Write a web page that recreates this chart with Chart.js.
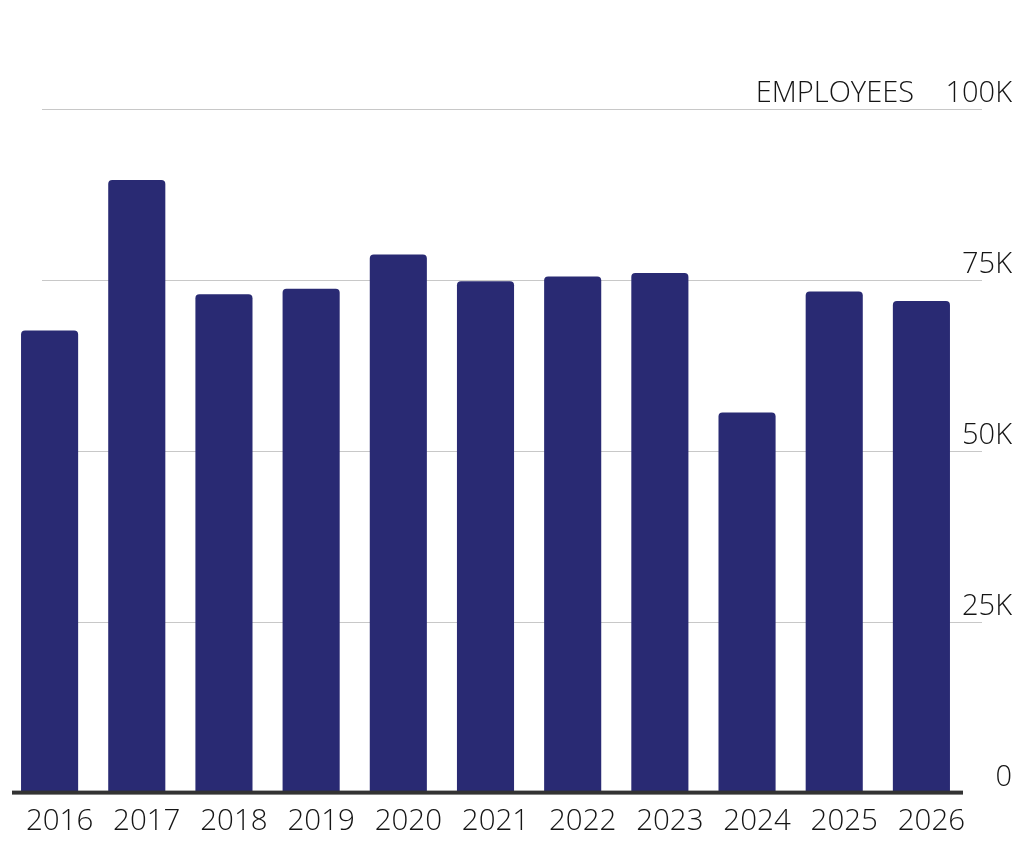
<!DOCTYPE html>
<html>
<head>
<meta charset="utf-8">
<script src="https://cdn.jsdelivr.net/npm/chart.js@4/dist/chart.umd.min.js"></script>
<style>
  html, body { margin: 0; padding: 0; background: #fff; }
  #wrap { width: 1030px; height: 856px; }
</style>
</head>
<body>
<div id="wrap"><canvas id="grafico"></canvas></div>
<script>
// dados do gráfico
const anos = ['2016', '2017', '2018', '2019', '2020', '2021', '2022', '2023', '2024', '2025', '2026'];
const funcionarios = [67600, 89600, 72900, 73700, 78700, 74800, 75500, 76000, 55600, 73300, 71900];
const marcasY = [0, 25000, 50000, 75000, 100000];
const rotulosY = ['0', '25K', '50K', '75K', '100K'];
const tituloY = 'EMPLOYEES';

const fonte = '"Open Sans", "Liberation Sans", sans-serif';

// linhas de grade, rótulos do eixo y e linha de base
const gradePlugin = {
    id: 'grade',
    beforeDatasetsDraw(chart) {
        const ctx = chart.ctx;
        const y = chart.scales.y;
        ctx.save();
        ctx.strokeStyle = '#c8c8c8';
        ctx.lineWidth = 1;
        marcasY.forEach(v => {
            if (v === 0) return;
            const py = Math.round(y.getPixelForValue(v)) + 0.5;
            ctx.beginPath();
            ctx.moveTo(42, py);
            ctx.lineTo(982, py);
            ctx.stroke();
        });
        ctx.restore();
    },
    afterDatasetsDraw(chart) {
        const ctx = chart.ctx;
        const y = chart.scales.y;
        ctx.save();
        // linha de base
        const py0 = y.getPixelForValue(0);
        ctx.fillStyle = '#333333';
        ctx.fillRect(12, py0 - 2, 951, 4);

        ctx.fillStyle = '#151515';
        ctx.font = '300 29px ' + fonte;
        ctx.textAlign = 'right';
        ctx.textBaseline = 'alphabetic';
        marcasY.forEach((v, i) => {
            const py = y.getPixelForValue(v);
            ctx.fillText(rotulosY[i], 1012, py - 7);
        });
        ctx.fillText(tituloY, 914, y.getPixelForValue(100000) - 7);
        ctx.restore();
    }
};

const data = {
    labels: anos,
    datasets: [{
        label: tituloY,
        data: funcionarios,
        backgroundColor: '#292a73',
        borderRadius: { topLeft: 4, topRight: 4 },
        borderSkipped: 'start',
        categoryPercentage: 1,
        barPercentage: 0.655
    }]
};

const config = {
    type: 'bar',
    data: data,
    options: {
        responsive: true,
        maintainAspectRatio: false,
        animation: false,
        layout: {
            padding: { top: 109, left: 6, right: 65, bottom: 6 }
        },
        plugins: {
            legend: { display: false },
            tooltip: { enabled: false }
        },
        scales: {
            x: {
                grid: { display: false, drawTicks: false },
                border: { display: false },
                ticks: {
                    color: '#151515',
                    font: { family: fonte, size: 29.5, weight: 300 },
                    padding: 11,
                    labelOffset: 10,
                    maxRotation: 0,
                    autoSkip: false
                }
            },
            y: {
                display: false,
                min: 0,
                max: 100000
            }
        }
    },
    plugins: [gradePlugin]
};

const ctx = document.getElementById('grafico').getContext('2d');
const meuGrafico = new Chart(ctx, config);
</script>
</body>
</html>
